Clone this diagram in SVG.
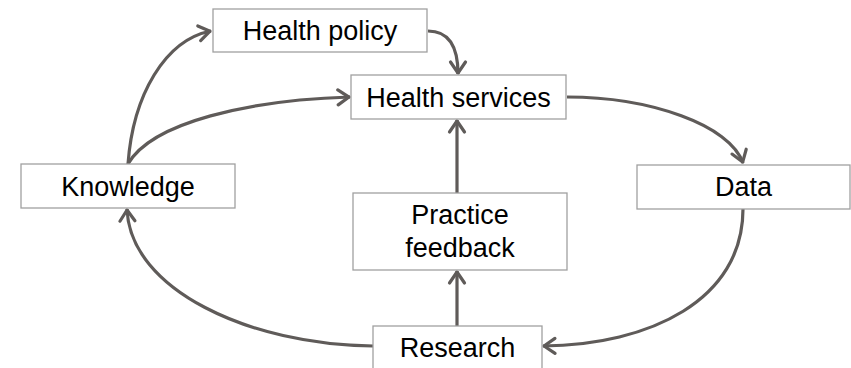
<svg xmlns="http://www.w3.org/2000/svg" width="851" height="368" viewBox="0 0 851 368">
<defs>
<style>
.box{fill:#fff;stroke:#a0a0a0;stroke-width:1.3}
.lbl{font-family:"Liberation Sans",Arial,sans-serif;font-size:27px;fill:#000;text-anchor:middle}
.con{fill:none;stroke:#5f5b59;stroke-width:3.2;marker-end:url(#ah)}
</style>
<marker id="ah" viewBox="-15 -10 18 20" refX="0" refY="0" markerWidth="18" markerHeight="20" markerUnits="userSpaceOnUse" orient="auto">
<path d="M-12,-7.5 L-1,0 L-12,7.5" fill="none" stroke="#5f5b59" stroke-width="3.2" stroke-linecap="round" stroke-linejoin="round"/>
</marker>
</defs>
<rect width="851" height="368" fill="#fff"/>
<g id="connectors">
<path class="con" d="M128,164 C133,95 165,40 211,31"/>
<path class="con" d="M128,164 C152,122 250,100 350,97"/>
<path class="con" d="M428,31 C448,31 458,45 458,74"/>
<path class="con" d="M567,97 C650,97 730,125 743,163"/>
<path class="con" d="M743,209 C743,300 650,345 543,346"/>
<path class="con" d="M373,346 C250,345 130,290 127,209"/>
<path class="con" d="M457,326 L457,271"/>
<path class="con" d="M457,193 L457,120"/>
</g>
<g id="health-policy">
<rect class="box" x="213" y="9" width="214" height="43"/>
<text class="lbl" x="320" y="40">Health policy</text>
</g>
<g id="health-services">
<rect class="box" x="351" y="75" width="215" height="44"/>
<text class="lbl" x="458.5" y="106.5">Health services</text>
</g>
<g id="knowledge">
<rect class="box" x="21" y="164" width="214" height="44"/>
<text class="lbl" x="128" y="195.5">Knowledge</text>
</g>
<g id="data">
<rect class="box" x="637" y="165" width="213" height="44"/>
<text class="lbl" x="743.5" y="196">Data</text>
</g>
<g id="practice-feedback">
<rect class="box" x="353" y="193" width="214" height="77"/>
<text class="lbl" x="460" y="224">Practice</text>
<text class="lbl" x="460" y="257">feedback</text>
</g>
<g id="research">
<rect class="box" x="373" y="326" width="169" height="50"/>
<text class="lbl" x="457.5" y="357">Research</text>
</g>
</svg>
